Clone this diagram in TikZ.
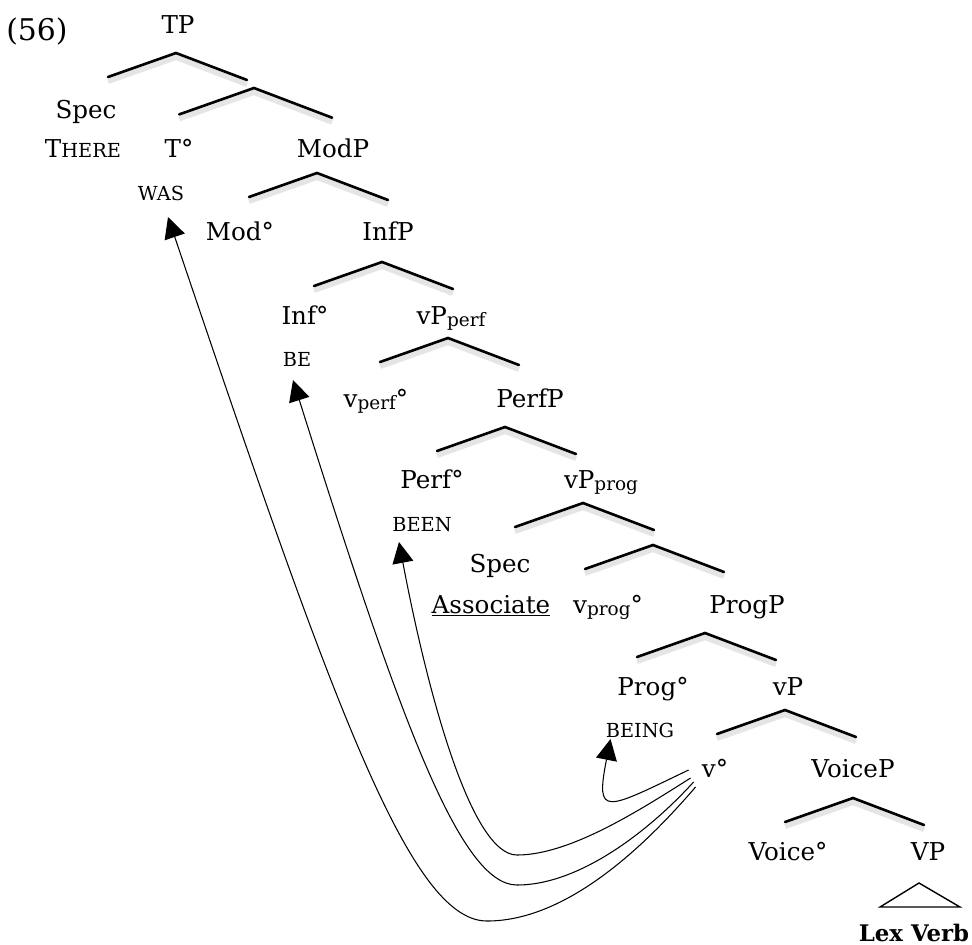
\documentclass[tikz,border=0pt]{standalone}
\usepackage{fontspec}
\setmainfont{DejaVu Serif}
\usetikzlibrary{arrows.meta}

\newcommand{\lo}[1]{\raisebox{-1.5pt}{\fontsize{10.5}{12}\selectfont #1}}

\tikzset{
  lbl/.style={inner sep=0pt, anchor=base, font=\fontsize{14}{16}\selectfont},
  sc/.style={inner sep=0pt, anchor=base, font=\fontsize{11}{13}\selectfont},
  branch/.style={line width=1.5pt, line cap=round,
    preaction={draw=black!10, line width=3pt, transform canvas={yshift=-2.5pt}}},
  mv/.style={line width=0.6pt, -{Triangle[length=0.42cm,width=0.42cm]}},
}

\begin{document}
\begin{tikzpicture}[x=0.02cm, y=-0.02cm]
  \useasboundingbox (0,0) rectangle (972,944);

  % branches
  \foreach \x/\y/\s in {176/53/1, 254/88/1.1, 317/173/1, 382/262/1, 448/338/1,
                        505/427/1, 583/503/1, 653/545/1, 705/633/1, 785/710/1, 853/798/1}{
    \draw[branch] ({\x-68*\s},{\y+24*\s}) -- (\x,\y) -- ({\x+71*\s},{\y+27*\s});
  }
  \draw[line width=0.8pt] (919,883) -- (880,907) -- (960,907) -- cycle;

  % labels
  \node[lbl, font=\fontsize{17}{20}\selectfont] (num) at (37,40) {(56)};
  \node[lbl] (tp) at (178,33) {TP};
  \node[lbl] (spec1) at (86,118) {Spec};
  \node[lbl] (there) at (83,157) {T{\fontsize{11}{13}\selectfont HERE}};
  \node[lbl] (t) at (179,157) {T°};
  \node[lbl] (modp) at (333,157) {ModP};
  \node[sc] (was) at (161,200) {WAS};
  \node[lbl] (mod) at (240,240) {Mod°};
  \node[lbl] (infp) at (388,240) {InfP};
  \node[lbl] (inf) at (305,324) {Inf°};
  \node[lbl] (vpperf) at (451,324) {vP\lo{perf}};
  \node[sc] (be) at (297,366) {BE};
  \node[lbl] (vperf) at (376,407) {v\lo{perf}°};
  \node[lbl] (perfp) at (530,407) {PerfP};
  \node[lbl] (perf) at (432,488) {Perf°};
  \node[lbl] (vpprog) at (601,488) {vP\lo{prog}};
  \node[sc] (been) at (422,531) {BEEN};
  \node[lbl] (spec2) at (500,572) {Spec};
  \node[lbl] (assoc) at (491,613) {\underline{Associate}};
  \node[lbl] (vprog) at (608,613) {v\lo{prog}°};
  \node[lbl] (progp) at (747,613) {ProgP};
  \node[lbl] (prog) at (653,695) {Prog°};
  \node[lbl] (vp) at (788,695) {vP};
  \node[sc] (being) at (640,737) {BEING};
  \node[lbl] (vo) at (715,777) {v°};
  \node[lbl] (voicep) at (853,777) {VoiceP};
  \node[lbl] (voice) at (788,860) {Voice°};
  \node[lbl] (vpl) at (928,860) {VP};
  \node[lbl, font=\fontsize{13}{15}\selectfont\bfseries] (lex) at (914,941) {Lex Verb};

  % head movement of v
  \draw[mv] ([shift={(-13,-7)}]vo.base west) .. controls (605,810) and (595,818)
    .. ([shift={(5,2)}]being.base west);
  \draw[mv] ([shift={(-11,1)}]vo.base west) .. controls (640,810) and (570,855) .. (517,855)
    .. controls (470,855) and (426,685) .. ([shift={(7,11)}]been.base west);
  \draw[mv] ([shift={(-8,5)}]vo.base west) .. controls (650,830) and (580,885) .. (517,885)
    .. controls (460,885) and (400,720) .. ([shift={(-4,14)}]be.base);
  \draw[mv] ([shift={(-6,10)}]vo.base west) .. controls (650,840) and (570,921) .. (487,921)
    .. controls (410,921) and (333,705) .. ([shift={(7,17)}]was.base);
\end{tikzpicture}
\end{document}
